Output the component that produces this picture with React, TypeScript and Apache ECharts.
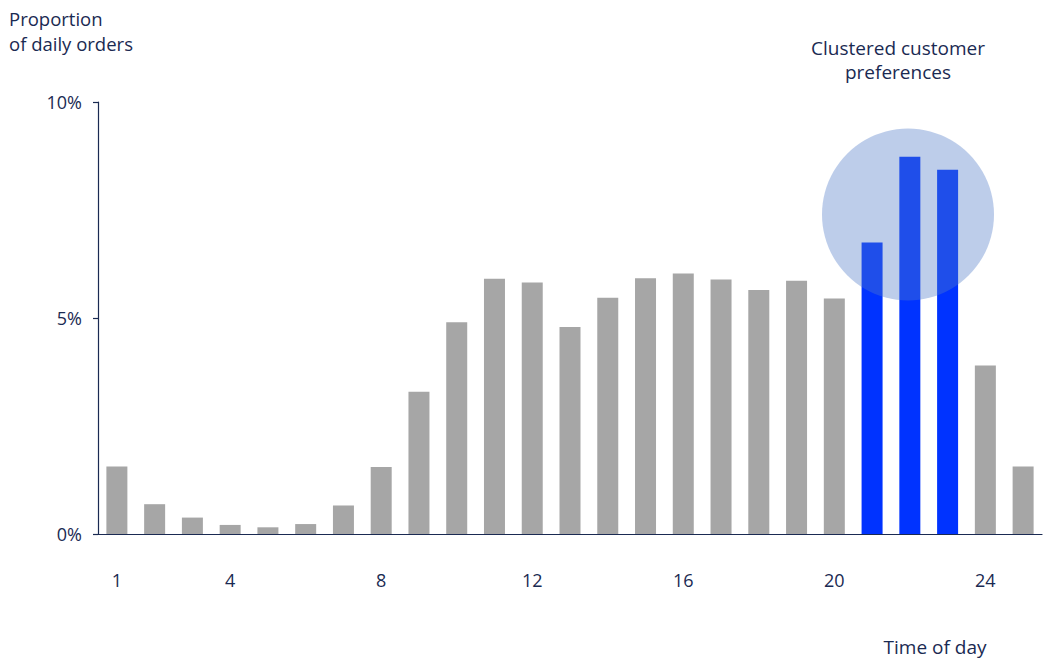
import React, { useEffect, useRef } from "react";
import * as echarts from "echarts";

const categories = ["1","2","3","4","5","6","7","8","9","10","11","12","13","14","15","16","17","18","19","20","21","22","23","24","25"];
const values = [1.56, 0.69, 0.38, 0.21, 0.155, 0.23, 0.66, 1.55, 3.29, 4.9, 5.91, 5.82, 4.79, 5.47, 5.92, 6.03, 5.89, 5.65, 5.86, 5.45, 6.75, 8.73, 8.43, 3.9, 1.56];
const highlighted = ["21", "22", "23"];
const shownLabels = ["1", "4", "8", "12", "16", "20", "24"];
const yTicks = [0, 5, 10];

const NAVY = "#1a2a52";
const GREY = "#a6a6a6";
const BLUE = "#0033ff";
const FONT = "'Open Sans', sans-serif";

export default function App() {
  const ref = useRef<HTMLDivElement>(null);
  useEffect(() => {
    if (!ref.current) return;
    const chart = echarts.init(ref.current, null, { renderer: "svg" });
    const txt = (text: string, x: number, y: number, align: string, size = 19) => ({
      type: "text",
      x,
      y,
      style: {
        text,
        fill: NAVY,
        font: `${size}px ${FONT}`,
        lineHeight: size + 2,
        align,
        verticalAlign: "middle",
      },
    });
    chart.setOption({
      animation: false,
      backgroundColor: "#ffffff",
      grid: { left: 98, right: 10, top: 102, bottom: 134, containLabel: false },
      xAxis: {
        type: "category",
        data: categories,
        axisLine: { show: true, lineStyle: { color: NAVY, width: 1.2 } },
        axisTick: { show: false },
        axisLabel: {
          interval: (_i: number, v: string) => shownLabels.includes(v),
          color: NAVY,
          fontFamily: FONT,
          fontSize: 18,
          margin: 37,
        },
      },
      yAxis: {
        type: "value",
        min: yTicks[0],
        max: yTicks[yTicks.length - 1],
        interval: 5,
        splitLine: { show: false },
        axisLine: { show: true, lineStyle: { color: NAVY, width: 1.2 } },
        axisTick: { show: true, inside: false, length: 5, lineStyle: { color: NAVY, width: 1.2 } },
        axisLabel: {
          formatter: "{value}%",
          color: NAVY,
          fontFamily: FONT,
          fontSize: 18,
          margin: 16,
        },
      },
      series: [
        {
          type: "bar",
          barWidth: 21,
          data: values.map((v, i) => ({
            value: v,
            itemStyle: { color: highlighted.includes(categories[i]) ? BLUE : GREY },
          })),
        },
      ],
      graphic: [
        {
          type: "circle",
          z: 100,
          shape: { cx: 908, cy: 214.5, r: 86 },
          style: { fill: "rgba(82,124,200,0.38)" },
        },
        txt("Proportion", 9, 18, "left", 18.5),
        txt("of daily orders", 9, 43, "left", 18.5),
        txt("Clustered customer", 898, 48, "center"),
        txt("preferences", 898, 72, "center"),
        txt("Time of day", 935, 647, "center"),
      ],
    });
    return () => chart.dispose();
  }, []);
  return (
    <div
      ref={ref}
      style={{ position: "fixed", left: 0, top: 0, width: 1052, height: 668 }}
    />
  );
}
